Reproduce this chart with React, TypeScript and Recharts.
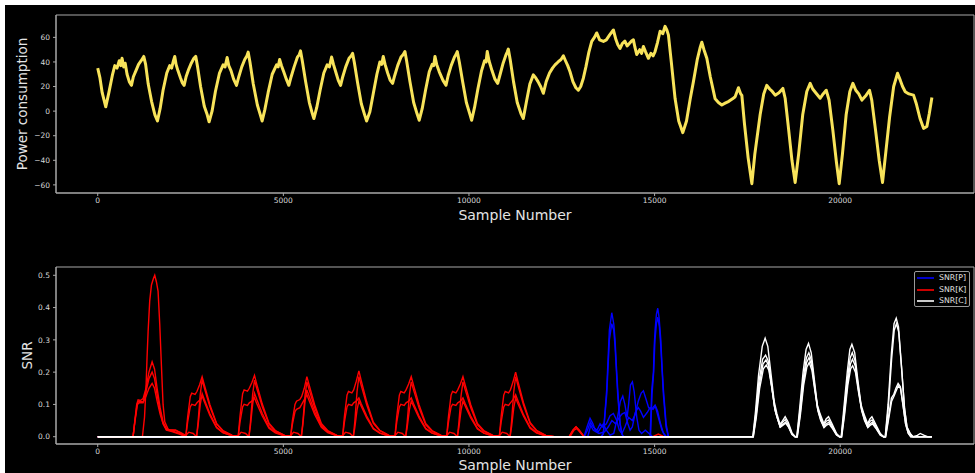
import { LineChart, Line, XAxis, YAxis, Label, Legend, ReferenceArea } from "recharts";

const FONT = "'DejaVu Sans', sans-serif";
const SPINE = "#a8a8a8";
const TICK_TEXT = "#d8d8d8";
const TITLE_TEXT = "#e4e4e4";

type Pt = [number, number];

const sampleTicks = [0, 5000, 10000, 15000, 20000];
const powerTicks = [-60, -40, -20, 0, 20, 40, 60];
const snrTicks = [0, 0.1, 0.2, 0.3, 0.4, 0.5];

// power consumption trace (sample, value)
const powerTrace: Pt[] = [
  [0, 35], [60, 27], [120, 15], [216, 3.5], [300, 15], [400, 30], [460, 37], [520, 35], [580, 41], [620, 37], [655, 43], [700, 36], [740, 39], [790, 30], [850, 24], [908, 21], [960, 28], [1030, 33], [1100, 38], [1170, 41], [1240, 44.5], [1290, 38], [1360, 22], [1450, 8], [1540, -3], [1609, -8],
  [1680, 2], [1760, 17], [1860, 31], [1940, 37], [1990, 35], [2040, 41], [2075, 44.5], [2110, 38], [2160, 33], [2230, 27], [2280, 23], [2327, 21], [2380, 28], [2450, 34], [2520, 39], [2590, 43], [2641, 44.5], [2690, 36], [2770, 20], [2870, 4], [2950, -3], [3000, -8.7],
  [3080, 0], [3170, 16], [3280, 31], [3378, 37.6], [3430, 36], [3486, 43.6], [3530, 37], [3590, 33], [3660, 26], [3738, 21], [3800, 28], [3880, 36], [3960, 42], [4020, 45], [4052, 48], [4100, 40], [4190, 22], [4300, 5], [4380, -3], [4429, -8],
  [4500, 1], [4590, 15], [4700, 30], [4817, 37.6], [4860, 36], [4900, 42], [4950, 37], [5010, 32], [5080, 26], [5148, 21], [5210, 28], [5290, 36], [5380, 44], [5430, 46], [5463, 49], [5510, 41], [5600, 24], [5700, 7], [5780, -2], [5822, -6],
  [5900, 3], [5990, 17], [6090, 31], [6181, 37.6], [6240, 36], [6300, 44], [6350, 38], [6420, 31], [6480, 25], [6542, 21], [6600, 28], [6680, 36], [6770, 43], [6830, 45], [6865, 47], [6910, 40], [7000, 23], [7100, 6], [7190, -3], [7243, -8],
  [7331, -0.5], [7420, 14], [7520, 30], [7601, 40], [7650, 38], [7690, 44.5], [7740, 38], [7810, 31], [7880, 25], [7943, 22.6], [8000, 29], [8080, 37], [8170, 44], [8230, 46], [8275, 48.5], [8320, 41], [8410, 24], [8510, 7], [8600, -2], [8660, -7.4],
  [8740, 2], [8830, 17], [8930, 32], [9010, 38], [9050, 37], [9084, 44.5], [9130, 38], [9200, 32], [9300, 25], [9380, 21], [9440, 29], [9520, 37], [9610, 44], [9650, 46], [9685, 48.5], [9740, 40], [9830, 24], [9930, 7], [10020, -2], [10073, -7.4],
  [10150, 3], [10240, 18], [10340, 33], [10420, 41], [10460, 40], [10493, 48.5], [10540, 41], [10620, 33], [10700, 26], [10774, 22.6], [10840, 30], [10920, 39], [11000, 46], [11030, 48], [11060, 50.5], [11110, 42], [11200, 24], [11300, 7], [11400, -2], [11464, -6],
  [11550, 8], [11640, 22], [11734, 29.5], [11800, 27], [11860, 24], [11930, 20], [12003, 14.5], [12080, 24], [12170, 31], [12250, 35], [12318, 37.6], [12400, 40], [12480, 42], [12543, 45], [12600, 41], [12660, 37], [12722, 32], [12800, 24], [12880, 19], [12946, 17], [13010, 20], [13081, 26.8],
  [13150, 36], [13230, 48], [13307, 56.7], [13380, 60], [13441, 63.6], [13520, 58], [13621, 56.7], [13700, 58], [13790, 62], [13890, 66], [13960, 58], [14010, 54], [14070, 51], [14130, 55], [14200, 57], [14260, 53], [14320, 55], [14380, 57], [14429, 58], [14470, 52], [14520, 46], [14600, 50], [14650, 47], [14699, 52.6], [14760, 48], [14834, 43], [14900, 47], [14960, 45], [15013, 48.5], [15080, 56], [15148, 65], [15220, 63], [15283, 69], [15330, 66], [15372, 62],
  [15450, 40], [15553, 10], [15650, -8], [15760, -17.5], [15860, -8], [15960, 10], [16046, 24], [16150, 42], [16230, 52], [16272, 56], [16330, 50], [16407, 43], [16500, 28], [16631, 10], [16720, 7], [16811, 5], [16900, 6.5], [17000, 8], [17100, 10], [17170, 11.7], [17259, 19], [17320, 14], [17350, 13],
  [17420, -10], [17520, -38], [17620, -59], [17700, -35], [17843, -3], [17940, 14], [18023, 21], [18100, 18], [18170, 16], [18248, 13], [18350, 15], [18455, 18.5], [18517, 10.5], [18600, -12], [18700, -40], [18787, -58],
  [18880, -35], [18990, -3], [19100, 16], [19191, 22.6], [19260, 18], [19340, 15], [19461, 10.5], [19540, 14], [19623, 17], [19700, 9], [19800, -15], [19900, -42], [19973, -59],
  [20060, -35], [20160, -3], [20260, 16], [20342, 22.6], [20420, 17], [20500, 14], [20585, 9], [20700, 13], [20790, 17], [20850, 9], [20950, -15], [21050, -40], [21140, -58],
  [21230, -33], [21330, -5], [21440, 20], [21545, 30.8], [21620, 25], [21680, 20], [21752, 15.8], [21850, 14], [21975, 13], [22050, 6], [22150, -6], [22245, -14], [22335, -12.5], [22400, -2], [22470, 11],
];

// SNR[P] traces
const snrP1: Pt[] = [
  [0, 0], [13560, 0], [13620, 0.01], [13710, 0.145], [13782, 0.33], [13846, 0.384], [13900, 0.35], [13935, 0.3], [13970, 0.22], [14007, 0.145], [14070, 0.042], [14115, 0.01], [14160, 0],
  [14880, 0], [14924, 0.145], [14969, 0.2], [14990, 0.28], [15013, 0.33], [15050, 0.38], [15086, 0.398], [15120, 0.37], [15167, 0.3], [15200, 0.22], [15238, 0.145], [15310, 0.04], [15372, 0], [15400, 0],
];
const snrP2: Pt[] = [
  [0, 0], [13570, 0], [13620, 0.01], [13710, 0.13], [13782, 0.3], [13846, 0.35], [13900, 0.33], [13935, 0.28], [14007, 0.13], [14070, 0.04], [14115, 0.01], [14160, 0],
  [14890, 0], [14930, 0.13], [14975, 0.2], [15010, 0.3], [15050, 0.35], [15086, 0.37], [15130, 0.34], [15167, 0.28], [15238, 0.13], [15310, 0.03], [15372, 0], [15400, 0],
];
const snrP3: Pt[] = [
  [0, 0], [13100, 0], [13180, 0.03], [13261, 0.057], [13340, 0.04], [13400, 0.02], [13480, 0.015], [13560, 0.03], [13620, 0.04], [13700, 0.02], [13800, 0.005], [13900, 0.01], [14000, 0.06], [14080, 0.11], [14143, 0.126], [14200, 0.1], [14260, 0.06], [14300, 0.1], [14350, 0.16], [14403, 0.17], [14450, 0.14], [14520, 0.06], [14580, 0.02], [14650, 0.01], [14750, 0.02], [14850, 0.01], [14950, 0], [15400, 0],
];
const snrP4: Pt[] = [
  [0, 0], [13100, 0], [13190, 0.02], [13270, 0.045], [13350, 0.03], [13450, 0.02], [13531, 0.04], [13600, 0.03], [13700, 0.04], [13800, 0.065], [13890, 0.072], [13980, 0.05], [14050, 0.02], [14120, 0.01], [14200, 0.03], [14300, 0.06], [14400, 0.05], [14480, 0.07], [14560, 0.11], [14640, 0.135], [14699, 0.142], [14760, 0.12], [14840, 0.09], [14920, 0.085], [15013, 0.098], [15080, 0.08], [15160, 0.04], [15240, 0.01], [15320, 0], [15400, 0],
];
const snrP5: Pt[] = [
  [0, 0], [13200, 0], [13280, 0.035], [13350, 0.02], [13500, 0.01], [13650, 0.015], [13750, 0.03], [13850, 0.05], [13950, 0.04], [14050, 0.06], [14120, 0.07], [14200, 0.075], [14280, 0.04], [14340, 0.02], [14400, 0.03], [14480, 0.075], [14560, 0.09], [14620, 0.08], [14700, 0.06], [14800, 0.075], [14880, 0.09], [14960, 0.085], [15020, 0.095], [15100, 0.06], [15200, 0.02], [15300, 0], [15400, 0],
];

// SNR[K] traces
const snrK1: Pt[] = [
  [0, 0], [952, 0], [1000, 0.05], [1050, 0.1], [1087, 0.114], [1150, 0.112], [1222, 0.118], [1300, 0.15], [1380, 0.2], [1465, 0.232], [1530, 0.21], [1600, 0.15], [1680, 0.09], [1761, 0.045], [1850, 0.025], [1950, 0.02], [2100, 0.02], [2250, 0.01], [2372, 0],
  [2422, 0.061], [2492, 0.124], [2532, 0.135], [2622, 0.131], [2672, 0.14], [2742, 0.16], [2812, 0.186], [2872, 0.16], [3022, 0.099], [3202, 0.041], [3372, 0.019], [3622, 0.004], [3783, 0],
  [3833, 0.065], [3903, 0.133], [3943, 0.145], [4033, 0.141], [4083, 0.15], [4153, 0.168], [4223, 0.19], [4283, 0.163], [4433, 0.101], [4613, 0.042], [4783, 0.019], [5033, 0.004], [5194, 0],
  [5244, 0.05], [5314, 0.1], [5354, 0.11], [5444, 0.115], [5494, 0.125], [5564, 0.15], [5634, 0.186], [5694, 0.16], [5844, 0.099], [6024, 0.041], [6194, 0.019], [6444, 0.004], [6595, 0],
  [6645, 0.063], [6715, 0.129], [6755, 0.14], [6845, 0.136], [6895, 0.145], [6965, 0.172], [7035, 0.204], [7095, 0.175], [7245, 0.108], [7425, 0.045], [7595, 0.02], [7845, 0.004], [8005, 0],
  [8055, 0.063], [8125, 0.129], [8165, 0.14], [8255, 0.136], [8305, 0.145], [8375, 0.163], [8445, 0.186], [8505, 0.16], [8655, 0.099], [8835, 0.041], [9005, 0.019], [9255, 0.004], [9398, 0],
  [9448, 0.063], [9518, 0.129], [9558, 0.14], [9648, 0.136], [9698, 0.145], [9768, 0.163], [9838, 0.186], [9898, 0.16], [10048, 0.099], [10228, 0.041], [10398, 0.019], [10648, 0.004], [10817, 0],
  [10867, 0.063], [10937, 0.129], [10977, 0.14], [11067, 0.136], [11117, 0.145], [11187, 0.17], [11257, 0.2], [11317, 0.172], [11467, 0.106], [11647, 0.044], [11817, 0.02], [12067, 0.004], [12300, 0],
  [12700, 0], [12800, 0.02], [12884, 0.031], [12970, 0.02], [13100, 0], [15400, 0],
];
const snrK2: Pt[] = [
  [0, 0], [952, 0], [1000, 0.048], [1060, 0.1], [1100, 0.11], [1222, 0.108], [1300, 0.14], [1380, 0.18], [1465, 0.2], [1530, 0.18], [1600, 0.13], [1680, 0.08], [1761, 0.04], [1850, 0.022], [2000, 0.018], [2200, 0.01], [2372, 0],
  [2422, 0.045], [2492, 0.092], [2532, 0.1], [2622, 0.097], [2672, 0.105], [2742, 0.113], [2812, 0.125], [2872, 0.108], [3022, 0.066], [3202, 0.028], [3372, 0.013], [3622, 0.003], [3783, 0],
  [3833, 0.045], [3903, 0.092], [3943, 0.1], [4033, 0.097], [4083, 0.105], [4153, 0.11], [4223, 0.12], [4283, 0.103], [4433, 0.064], [4613, 0.026], [4783, 0.012], [5033, 0.002], [5194, 0],
  [5244, 0.038], [5314, 0.078], [5354, 0.085], [5444, 0.09], [5494, 0.1], [5564, 0.115], [5634, 0.13], [5694, 0.112], [5844, 0.069], [6024, 0.029], [6194, 0.013], [6444, 0.003], [6595, 0],
  [6645, 0.045], [6715, 0.092], [6755, 0.1], [6845, 0.097], [6895, 0.105], [6965, 0.11], [7035, 0.12], [7095, 0.103], [7245, 0.064], [7425, 0.026], [7595, 0.012], [7845, 0.002], [8005, 0],
  [8055, 0.045], [8125, 0.092], [8165, 0.1], [8255, 0.097], [8305, 0.105], [8375, 0.11], [8445, 0.12], [8505, 0.103], [8655, 0.064], [8835, 0.026], [9005, 0.012], [9255, 0.002], [9398, 0],
  [9448, 0.045], [9518, 0.092], [9558, 0.1], [9648, 0.097], [9698, 0.105], [9768, 0.11], [9838, 0.12], [9898, 0.103], [10048, 0.064], [10228, 0.026], [10398, 0.012], [10648, 0.002], [10817, 0],
  [10867, 0.045], [10937, 0.092], [10977, 0.1], [11067, 0.097], [11117, 0.105], [11187, 0.115], [11257, 0.13], [11317, 0.112], [11467, 0.069], [11647, 0.029], [11817, 0.013], [12067, 0.003], [12300, 0],
  [12720, 0], [12830, 0.02], [12900, 0.025], [12980, 0.015], [13100, 0], [15400, 0],
];
const snrK3: Pt[] = [
  [0, 0], [1204, 0], [1260, 0.06], [1300, 0.15], [1330, 0.25], [1357, 0.325], [1400, 0.42], [1447, 0.47], [1500, 0.49], [1536, 0.5], [1580, 0.48], [1626, 0.45], [1670, 0.35], [1716, 0.22], [1760, 0.1], [1806, 0.046], [1900, 0.022], [2100, 0.02], [2250, 0.012], [2372, 0.004],
  [2452, 0.014], [2572, 0.01], [2662, 0], [2702, 0.044], [2762, 0.132], [2812, 0.176], [2872, 0.151], [3022, 0.093], [3202, 0.039], [3372, 0.018], [3622, 0.004], [3783, 0.003],
  [3863, 0.014], [3983, 0.01], [4073, 0], [4113, 0.044], [4173, 0.131], [4223, 0.175], [4283, 0.15], [4433, 0.093], [4613, 0.039], [4783, 0.018], [5033, 0.004], [5194, 0.003],
  [5274, 0.014], [5394, 0.01], [5484, 0], [5524, 0.043], [5584, 0.128], [5634, 0.17], [5694, 0.146], [5844, 0.09], [6024, 0.037], [6194, 0.017], [6444, 0.003], [6595, 0.003],
  [6675, 0.014], [6795, 0.01], [6885, 0], [6925, 0.047], [6985, 0.14], [7035, 0.186], [7095, 0.16], [7245, 0.099], [7425, 0.041], [7595, 0.019], [7845, 0.004], [8005, 0.003],
  [8085, 0.014], [8205, 0.01], [8295, 0], [8335, 0.043], [8395, 0.128], [8445, 0.17], [8505, 0.146], [8655, 0.09], [8835, 0.037], [9005, 0.017], [9255, 0.003], [9398, 0.003],
  [9478, 0.014], [9598, 0.01], [9688, 0], [9728, 0.043], [9788, 0.128], [9838, 0.17], [9898, 0.146], [10048, 0.09], [10228, 0.037], [10398, 0.017], [10648, 0.003], [10817, 0.003],
  [10897, 0.014], [11017, 0.01], [11107, 0], [11147, 0.047], [11207, 0.14], [11257, 0.186], [11317, 0.16], [11467, 0.099], [11647, 0.041], [11817, 0.019], [12067, 0.004], [12300, 0],
  [12700, 0], [12800, 0.02], [12884, 0.031], [12970, 0.02], [13100, 0], [14950, 0], [15100, 0.008], [15250, 0], [15400, 0],
];
const snrK4: Pt[] = [
  [0, 0], [952, 0], [1000, 0.045], [1070, 0.1], [1120, 0.105], [1222, 0.105], [1300, 0.125], [1380, 0.15], [1465, 0.165], [1530, 0.15], [1600, 0.11], [1680, 0.07], [1761, 0.04], [1850, 0.02], [2000, 0.016], [2200, 0.008], [2372, 0],
  [2662, 0], [2702, 0.034], [2762, 0.1], [2812, 0.134], [2872, 0.115], [3022, 0.071], [3202, 0.029], [3372, 0.013], [3622, 0.003], [3783, 0],
  [4073, 0], [4113, 0.034], [4173, 0.101], [4223, 0.135], [4283, 0.116], [4433, 0.072], [4613, 0.03], [4783, 0.014], [5033, 0.003], [5194, 0],
  [5484, 0], [5524, 0.036], [5584, 0.109], [5634, 0.145], [5694, 0.125], [5844, 0.077], [6024, 0.032], [6194, 0.015], [6444, 0.003], [6595, 0],
  [6885, 0], [6925, 0.028], [6985, 0.083], [7035, 0.11], [7095, 0.095], [7245, 0.058], [7425, 0.024], [7595, 0.011], [7845, 0.002], [8005, 0],
  [8295, 0], [8335, 0.028], [8395, 0.083], [8445, 0.11], [8505, 0.095], [8655, 0.058], [8835, 0.024], [9005, 0.011], [9255, 0.002], [9398, 0],
  [9688, 0], [9728, 0.028], [9788, 0.083], [9838, 0.11], [9898, 0.095], [10048, 0.058], [10228, 0.024], [10398, 0.011], [10648, 0.002], [10817, 0],
  [11107, 0], [11147, 0.03], [11207, 0.09], [11257, 0.12], [11317, 0.103], [11467, 0.064], [11647, 0.026], [11817, 0.012], [12067, 0.002], [12300, 0], [15400, 0],
];

// SNR[C] traces
const snrC1: Pt[] = [
  [0, 0], [17647, 0], [17720, 0.08], [17800, 0.19], [17900, 0.28], [17978, 0.305], [18050, 0.28], [18130, 0.2], [18220, 0.11], [18293, 0.072], [18380, 0.038], [18450, 0.05], [18517, 0.062], [18600, 0.045], [18700, 0.012], [18787, 0],
  [18832, 0], [18910, 0.09], [19000, 0.2], [19080, 0.27], [19146, 0.289], [19220, 0.26], [19300, 0.18], [19380, 0.1], [19460, 0.07], [19560, 0.04], [19620, 0.055], [19685, 0.062], [19780, 0.04], [19900, 0.01], [19981, 0],
  [20027, 0], [20100, 0.09], [20190, 0.2], [20260, 0.27], [20315, 0.286], [20390, 0.26], [20470, 0.18], [20560, 0.1], [20640, 0.07], [20740, 0.04], [20800, 0.055], [20854, 0.062], [20950, 0.04], [21080, 0.01], [21167, 0],
  [21212, 0], [21290, 0.1], [21380, 0.26], [21450, 0.35], [21509, 0.367], [21570, 0.34], [21650, 0.22], [21730, 0.09], [21800, 0.03], [21887, 0.01], [21960, 0], [22060, 0.003], [22156, 0.01], [22250, 0.005], [22350, 0], [22470, 0],
];
const snrC2: Pt[] = [
  [0, 0], [17650, 0], [17725, 0.07], [17810, 0.17], [17910, 0.24], [17990, 0.253], [18060, 0.235], [18140, 0.17], [18230, 0.095], [18293, 0.065], [18380, 0.032], [18450, 0.045], [18520, 0.053], [18600, 0.038], [18700, 0.01], [18787, 0],
  [18835, 0], [18915, 0.08], [19005, 0.18], [19090, 0.245], [19155, 0.26], [19230, 0.235], [19310, 0.16], [19390, 0.09], [19470, 0.06], [19560, 0.035], [19625, 0.048], [19690, 0.052], [19780, 0.035], [19900, 0.008], [19981, 0],
  [20030, 0], [20105, 0.08], [20195, 0.18], [20270, 0.245], [20325, 0.26], [20400, 0.235], [20480, 0.16], [20570, 0.09], [20650, 0.06], [20740, 0.035], [20805, 0.048], [20860, 0.052], [20950, 0.035], [21080, 0.008], [21167, 0],
  [21215, 0], [21295, 0.09], [21385, 0.24], [21455, 0.33], [21515, 0.35], [21575, 0.325], [21655, 0.21], [21735, 0.085], [21800, 0.028], [21887, 0.008], [21960, 0], [22470, 0],
];
const snrC3: Pt[] = [
  [0, 0], [17655, 0], [17730, 0.06], [17820, 0.16], [17920, 0.225], [18000, 0.238], [18070, 0.22], [18150, 0.16], [18240, 0.085], [18300, 0.06], [18380, 0.03], [18450, 0.038], [18525, 0.045], [18600, 0.032], [18700, 0.008], [18787, 0],
  [18840, 0], [18920, 0.07], [19010, 0.17], [19095, 0.23], [19160, 0.245], [19235, 0.22], [19315, 0.15], [19395, 0.085], [19470, 0.055], [19560, 0.03], [19630, 0.04], [19695, 0.045], [19780, 0.03], [19900, 0.006], [19981, 0],
  [20035, 0], [20110, 0.07], [20200, 0.17], [20275, 0.225], [20330, 0.24], [20405, 0.22], [20485, 0.15], [20575, 0.085], [20650, 0.055], [20740, 0.03], [20810, 0.04], [20865, 0.045], [20950, 0.03], [21080, 0.006], [21167, 0],
  [21220, 0], [21300, 0.06], [21380, 0.12], [21440, 0.13], [21500, 0.15], [21560, 0.165], [21620, 0.155], [21690, 0.1], [21760, 0.04], [21830, 0.012], [21900, 0], [22470, 0],
];
const snrC4: Pt[] = [
  [0, 0], [17660, 0], [17740, 0.06], [17830, 0.15], [17930, 0.21], [18010, 0.222], [18080, 0.205], [18160, 0.15], [18250, 0.08], [18310, 0.056], [18390, 0.03], [18460, 0.036], [18530, 0.042], [18610, 0.03], [18700, 0.007], [18787, 0],
  [18845, 0], [18925, 0.065], [19015, 0.16], [19100, 0.215], [19165, 0.23], [19240, 0.205], [19320, 0.14], [19400, 0.08], [19475, 0.05], [19565, 0.028], [19635, 0.036], [19700, 0.04], [19780, 0.027], [19900, 0.005], [19981, 0],
  [20040, 0], [20115, 0.065], [20205, 0.16], [20280, 0.21], [20335, 0.22], [20410, 0.2], [20490, 0.14], [20580, 0.08], [20655, 0.05], [20745, 0.028], [20815, 0.036], [20870, 0.04], [20955, 0.027], [21080, 0.005], [21167, 0],
  [21225, 0], [21305, 0.055], [21385, 0.11], [21445, 0.125], [21505, 0.142], [21565, 0.158], [21625, 0.15], [21695, 0.095], [21765, 0.038], [21835, 0.01], [21905, 0], [22470, 0],
];

const legendNames = ["SNR[P]", "SNR[K]", "SNR[C]"];
const legendColors = ["#0000ff", "#ff0000", "#ffffff"];

const X_DOMAIN: [number, number] = [-1124, 23604];
const POWER_DOMAIN: [number, number] = [-66.6, 78.2];
const SNR_DOMAIN: [number, number] = [-0.0226, 0.5257];

const rows = (pts: Pt[]) => pts.map(([x, y]) => ({ x, y }));

const minus = (v: number) => String(v).replace("-", "\u2212");

const tickStyle = { fill: TICK_TEXT, fontSize: 7.5, fontFamily: FONT };
const titleStyle = { fontSize: 13.5, fontFamily: FONT, fill: TITLE_TEXT };

function SnrLegend() {
  return (
    <div
      style={{
        border: "1px solid #9a9a9a",
        borderRadius: 2,
        background: "#000",
        width: 54,
        height: 34,
        boxSizing: "content-box",
        fontFamily: FONT,
        fontSize: 7.8,
        color: "#e0e0e0",
        lineHeight: "11.7px",
      }}
    >
      {legendNames.map((name, i) => (
        <div key={name} style={{ display: "flex", alignItems: "center", height: 11.7, paddingLeft: 2 }}>
          <svg width={17} height={4} style={{ display: "block" }}>
            <line x1={0} y1={2} x2={17} y2={2} stroke={legendColors[i]} strokeWidth={1.6} />
          </svg>
          <span style={{ marginLeft: 5 }}>{name}</span>
        </div>
      ))}
    </div>
  );
}

function sampleAxis(labelOffset: number) {
  return (
    <XAxis
      type="number"
      dataKey="x"
      domain={X_DOMAIN}
      ticks={sampleTicks}
      allowDataOverflow
      height={12}
      stroke={SPINE}
      tickSize={3}
      tickMargin={2}
      tick={tickStyle}
    >
      <Label value="Sample Number" position="bottom" offset={labelOffset} style={{ ...titleStyle, fontSize: 14 }} />
    </XAxis>
  );
}

// axes box: the full plotting area outlined like matplotlib spines
function frame(yDomain: [number, number]) {
  return (
    <ReferenceArea
      x1={X_DOMAIN[0]}
      x2={X_DOMAIN[1]}
      y1={yDomain[0]}
      y2={yDomain[1]}
      fill="none"
      stroke={SPINE}
      strokeWidth={1}
      ifOverflow="visible"
    />
  );
}

export default function App() {
  const power = rows(powerTrace);
  const snrP = [snrP1, snrP2, snrP3, snrP4, snrP5].map(rows);
  const snrK = [snrK1, snrK2, snrK3, snrK4].map(rows);
  const snrC = [snrC1, snrC2, snrC3, snrC4].map(rows);

  return (
    <div style={{ position: "absolute", left: 0, top: 0, width: 975, height: 473, background: "#fff", overflow: "hidden" }}>
      <div style={{ position: "absolute", left: 5, top: 5, width: 970, height: 468, background: "#000" }} />

      <div style={{ position: "absolute", left: 0, top: 0 }}>
        <LineChart width={975} height={235} margin={{ top: 15, right: 1, bottom: 30, left: 0 }}>
          {sampleAxis(5)}
          <YAxis
            type="number"
            domain={POWER_DOMAIN}
            ticks={powerTicks}
            allowDataOverflow
            width={56}
            stroke={SPINE}
            tickSize={3}
            tickMargin={3}
            tick={tickStyle}
            tickFormatter={minus}
          >
            <Label value="Power consumption" angle={-90} position="insideLeft" offset={22} style={{ ...titleStyle, textAnchor: "middle" }} />
          </YAxis>
          {frame(POWER_DOMAIN)}
          <Line
            data={power}
            dataKey="y"
            type="linear"
            stroke="#f8e35a"
            strokeWidth={3}
            strokeLinejoin="round"
            dot={false}
            activeDot={false}
            isAnimationActive={false}
          />
        </LineChart>
      </div>

      <div style={{ position: "absolute", left: 0, top: 235 }}>
        <LineChart width={975} height={238} margin={{ top: 32, right: 1, bottom: 17, left: 0 }}>
          {sampleAxis(4.5)}
          <YAxis
            type="number"
            domain={SNR_DOMAIN}
            ticks={snrTicks}
            allowDataOverflow
            width={56}
            stroke={SPINE}
            tickSize={3}
            tickMargin={3}
            tick={tickStyle}
            tickFormatter={(v: number) => v.toFixed(1)}
          >
            <Label value="SNR" angle={-90} position="insideLeft" offset={27} style={{ ...titleStyle, textAnchor: "middle" }} />
          </YAxis>
          {frame(SNR_DOMAIN)}
          {snrP.map((d, i) => (
            <Line key={`p${i}`} data={d} dataKey="y" type="linear" stroke="#0000ff" strokeWidth={1.4} dot={false} activeDot={false} isAnimationActive={false} legendType="none" />
          ))}
          {snrK.map((d, i) => (
            <Line key={`k${i}`} data={d} dataKey="y" type="linear" stroke="#ff0000" strokeWidth={1.4} dot={false} activeDot={false} isAnimationActive={false} legendType="none" />
          ))}
          {snrC.map((d, i) => (
            <Line key={`c${i}`} data={d} dataKey="y" type="linear" stroke="#ffffff" strokeWidth={1.4} dot={false} activeDot={false} isAnimationActive={false} legendType="none" />
          ))}
          <Legend
            layout="vertical"
            align="center"
            verticalAlign="middle"
            content={() => <SnrLegend />}
            wrapperStyle={{ left: 914, top: 36, width: 56, height: 36 }}
          />
        </LineChart>
      </div>
    </div>
  );
}
